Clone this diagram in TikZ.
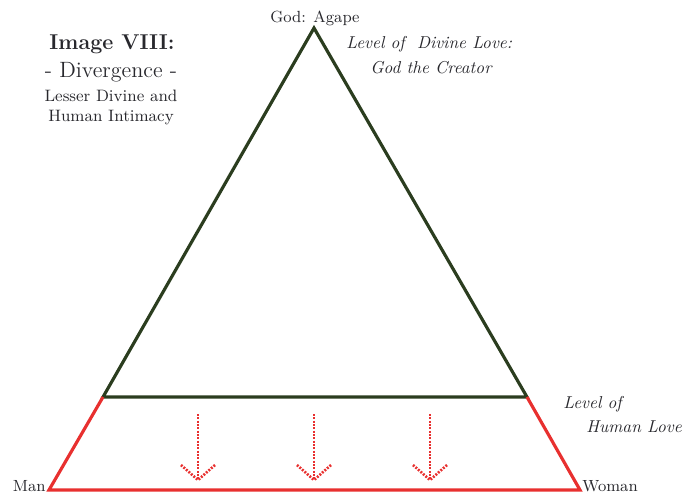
\documentclass[tikz,border=0pt]{standalone}
\usepackage{xcolor}
\usepackage{tikz}
\usetikzlibrary{arrows.meta,positioning}
\definecolor{divGreen}{RGB}{43,61,31}
\definecolor{humRed}{RGB}{232,48,47}
\definecolor{txtGray}{RGB}{40,40,45}

\begin{document}
\begin{tikzpicture}[x=0.02cm, y=-0.02cm, text=txtGray,
  divline/.style={line width=1.8pt, divGreen, line join=miter},
  humline/.style={line width=1.8pt, humRed},
  drip/.style={humRed, line width=1.5pt, dash pattern=on 1.1pt off 0.8pt},
  lbl/.style={inner sep=0pt, font=\fontsize{9.2}{11}\selectfont},
  lvl/.style={inner sep=0pt, font=\fontsize{9.8}{12}\selectfont\itshape, align=left}]
\useasboundingbox (0,0) rectangle (683,495);
% triangle corners
\coordinate (apex) at (314,28);
\coordinate (dl) at (103,397);
\coordinate (dr) at (527,397);
\coordinate (man) at (49,490);
\coordinate (woman) at (580,490);
% divine triangle
\draw[divline] (dl) -- (apex) -- (dr) -- cycle;
% human level
\draw[humline, line join=miter] (dl) -- (man) -- (woman) -- (dr);
% downward arrows
\foreach \i/\x in {1/198, 2/314, 3/430} {
  \coordinate (top\i) at (\x,414);
  \coordinate (tip\i) at (\x,480);
  \coordinate (lw\i) at (\x-17,465);
  \coordinate (rw\i) at (\x+17,465);
  \draw[drip] (top\i) -- (tip\i);
  \draw[drip] (lw\i) -- (tip\i) -- (rw\i);
}
% labels
\node[lbl, anchor=base] (god) at (315,22) {God: Agape};
\node[lbl, anchor=base east] (manlbl) at (46,491) {Man};
\node[lbl, anchor=base west] (womanlbl) at (582,491) {Woman};
\node[lvl, anchor=base west] (divlvl) at (346,48) {Level of~ Divine Love:};
\node[lvl, anchor=base west] (divlvlb) at (370,73) {God the Creator};
\node[lvl, anchor=base west] (humlvl) at (563,408) {Level of};
\node[lvl, anchor=base west] (humlvlb) at (586,432) {Human Love};
% title
\node[inner sep=0pt, anchor=base, font=\fontsize{12.2}{14}\selectfont\bfseries] (title) at (112,49) {Image VIII:};
\node[inner sep=0pt, anchor=base, font=\fontsize{12.6}{14}\selectfont] (diverg) at (111,77) {- Divergence -};
\node[inner sep=0pt, anchor=base, font=\fontsize{9.4}{11}\selectfont] (lesser) at (111,101) {Lesser Divine and};
\node[inner sep=0pt, anchor=base, font=\fontsize{9.4}{11}\selectfont] (intim) at (111,121) {Human Intimacy};
\end{tikzpicture}
\end{document}
